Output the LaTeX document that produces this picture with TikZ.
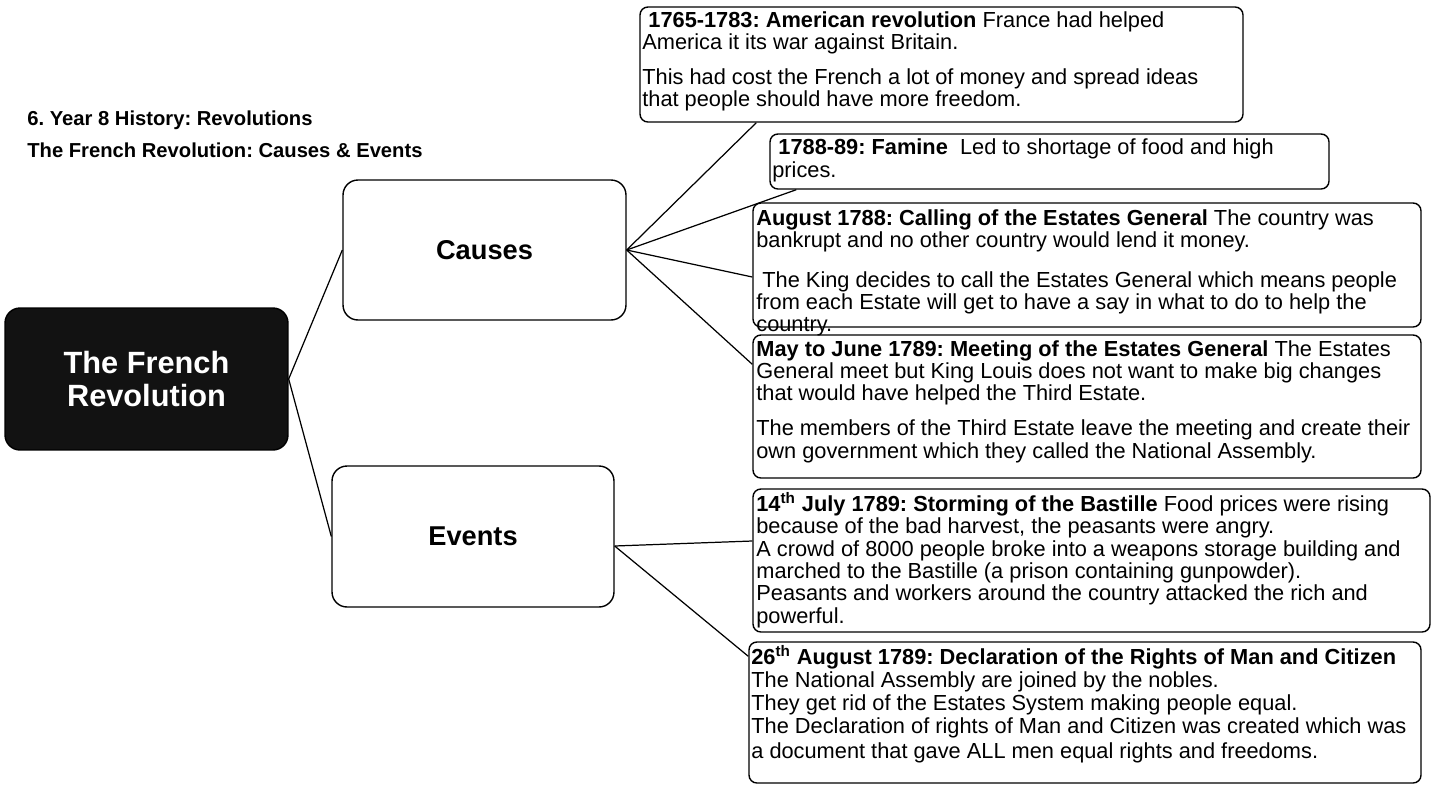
\documentclass[tikz,border=0pt]{standalone}
\usepackage{fontspec}
\setmainfont{Liberation Sans}
\usetikzlibrary{fit}

\tikzset{
  card/.style={draw,line width=0.8pt,rounded corners=4.5pt,inner sep=0pt},
  branch/.style={draw,line width=0.8pt,rounded corners=8.5pt,inner sep=0pt,
    minimum width=5.66cm,minimum height=2.8cm,font=\bfseries\fontsize{15.5}{18}\selectfont},
  note/.style={anchor=base west,inner sep=0pt,align=left,font=\fontsize{12.4}{#1}\selectfont},
  note/.default=12.7pt,
  heading/.style={anchor=base west,inner sep=0pt,font=\bfseries\fontsize{11.5}{13}\selectfont},
  link/.style={line width=0.7pt},
}

\begin{document}
\frenchspacing
\begin{tikzpicture}[x=0.02cm,y=-0.02cm]
  \useasboundingbox (0,0) rectangle (1434,785);
  % page heading
  \node[heading] (head) at (27,125) {6. Year 8 History: Revolutions};
  \node[heading] (subhead) at (27,157) {The French Revolution: Causes \& Events};
  % centre and the two branches
  \node[branch,minimum height=2.84cm,fill=black!93,text=white,align=center,
        font=\bfseries\fontsize{17.5}{19}\selectfont] (main) at (146.5,379) {The French\\Revolution};
  \node[branch] (causes) at (484.5,250) {Causes};
  \node[branch,minimum width=5.64cm,minimum height=2.82cm] (events) at (473,536.5) {Events};
  \draw[link] (main.east) -- (causes.west);
  \draw[link] (main.east) -- (events.west);
  % causes
  \node[card,fit={(640,7)(1243,122)}] (american) {};
  \node[card,fit={(770,134)(1329,189)}] (famine) {};
  \node[card,fit={(753,203)(1421,327)}] (calling) {};
  \node[card,fit={(753,335)(1421,478)}] (meeting) {};
  \node[note=12.4pt] (americantxt) at (642,106)
    {\ \textbf{1765-1783: American revolution} France had helped\\
     America it its war against Britain.\\[7.6pt]
     This had cost the French a lot of money and spread ideas\\
     that people should have more freedom.};
  \node[note] (faminetxt) at (772,177)
    {\ \textbf{1788-89: Famine}\ \ Led to shortage of food and high\\
     prices.};
  \node[note=12.4pt] (callingtxt) at (756,331)
    {\textbf{August 1788: Calling of the Estates General} The country was\\
     bankrupt and no other country would lend it money.\\[10.2pt]
     \ The King decides to call the Estates General which means people\\
     from each Estate will get to have a say in what to do to help the\\
     country.};
  \node[note] (meetingtxt) at (756,458)
    {\textbf{May to June 1789: Meeting of the Estates General} The Estates\\
     General meet but King Louis does not want to make big changes\\
     that would have helped the Third Estate.\\[7.2pt]
     The members of the Third Estate leave the meeting and create their\\
     own government which they called the National Assembly.};
  \coordinate (cshub) at (causes.east);
  \draw[link] (cshub) -- ([xshift=2.34cm]american.south west);
  \draw[link] (cshub) -- ([xshift=0.54cm]famine.south west);
  \draw[link] (cshub) -- ([yshift=-0.24cm]calling.west);
  \draw[link] (cshub) -- ([yshift=-0.6cm]meeting.north west);
  % events
  \node[card,fit={(753,489)(1430,632)}] (bastille) {};
  \node[card,fit={(749,642)(1421,783)}] (rights) {};
  \node[note] (bastilletxt) at (756,623)
    {\textbf{14\textsuperscript{th} July 1789: Storming of the Bastille} Food prices were rising\\
     because of the bad harvest, the peasants were angry.\\
     A crowd of 8000 people broke into a weapons storage building and\\
     marched to the Bastille (a prison containing gunpowder).\\
     Peasants and workers around the country attacked the rich and\\
     powerful.};
  \node[note=13pt] (rightstxt) at (751,758)
    {\textbf{26\textsuperscript{th} August 1789: Declaration of the Rights of Man and Citizen}\\
     The National Assembly are joined by the nobles.\\
     They get rid of the Estates System making people equal.\\
     The Declaration of rights of Man and Citizen was created which was\\[1.2pt]
     a document that gave ALL men equal rights and freedoms.};
  \coordinate (evhub) at ([yshift=-0.19cm]events.east);
  \draw[link] (evhub) -- ([yshift=0.39cm]bastille.west);
  \draw[link] (evhub) -- ([yshift=-0.3cm]rights.north west);
\end{tikzpicture}
\end{document}
